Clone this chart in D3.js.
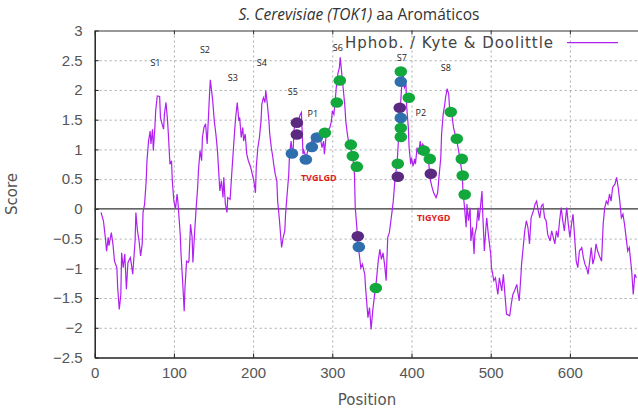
<!DOCTYPE html>
<html>
<head>
<meta charset="utf-8">
<script src="https://cdn.jsdelivr.net/npm/d3@7"></script>
<style>
  body { margin: 0; background: #fff; }
  #chart svg { display: block; }
</style>
</head>
<body>
<div id="chart"></div>
<script>
// Kyte & Doolittle profile (position, score)
const position = [8, 11, 13, 15, 17, 18, 21, 23, 25, 28, 29, 31, 33, 34, 36, 38, 40, 42, 45, 46, 48, 51, 52, 54, 56, 58, 60, 61, 63, 65, 66, 68, 70, 71, 73, 74, 76, 77, 79, 82, 83, 85, 87, 88, 90, 92, 93, 95, 97, 98,
  100, 102, 104, 105, 108, 109, 111, 113, 114, 116, 118, 119, 121, 123, 124, 126, 128, 130, 131, 133, 135, 136, 138, 140, 142, 144, 145, 146, 149, 151, 153, 155, 157, 158, 160, 162, 163, 165, 167, 168, 171, 173, 175, 177, 178, 180, 182, 183, 185, 187, 188, 190, 192, 194, 197, 199,
  201, 203, 204, 206, 208, 210, 211, 213, 215, 216, 218, 220, 221, 223, 225, 226, 228, 230, 231, 233, 235, 236, 238, 240, 241, 243, 245, 246, 248, 250, 252, 254, 257, 259, 261, 263, 264, 267, 269, 272, 274, 277, 279, 282, 284, 287, 289, 290, 292, 294, 297, 299,
  300, 302, 304, 305, 307, 309, 310, 312, 314, 316, 317, 319, 321, 324, 326, 328, 329, 331, 332, 334, 336, 338, 341, 342, 344, 345, 347, 349, 351, 353, 355, 358, 360, 362, 364, 366, 368, 370, 372, 374, 377, 379, 382, 384, 386, 388, 389, 391, 393, 394, 396, 397, 399,
  400, 402, 404, 405, 407, 409, 411, 412, 414, 417, 419, 422, 423, 426, 428, 431, 433, 435, 437, 438, 440, 442, 443, 445, 447, 448, 451, 453, 456, 458, 461, 464, 465, 467, 469, 470, 472, 474, 475, 477, 479, 480, 482, 484, 485, 487, 489, 490, 492, 494, 495, 497,
  500, 501, 504, 506, 509, 511, 514, 516, 518, 520, 524, 526, 528, 530, 533, 534, 536, 538, 539, 541, 543, 545, 547, 549, 551, 554, 556, 558, 560, 562, 564, 566, 568, 570, 572, 575, 577, 579, 581, 583, 585, 587, 589, 591, 593, 596, 598,
  600, 602, 604, 606, 608, 610, 612, 615, 617, 619, 621, 623, 625, 627, 629, 631, 633, 635, 638, 640, 642, 644, 646, 648, 650, 652, 654, 657, 659, 661, 663, 665, 667, 669, 671, 673, 675, 678, 680, 682, 684];
const score = [-0.06, -0.20, -0.43, -0.71, -0.48, -0.62, -0.40, -0.59, -0.88, -0.99, -1.32, -1.69, -1.44, -0.74, -0.99, -0.76, -1.35, -0.90, -0.82, -0.90, -1.10, -0.54, -0.06, -0.37, -0.54, -0.79, -0.59, -0.06, 0.08, 0.47, 0.81, 1.14, 1.31, 1.09, 1.34, 0.98, 1.37, 1.65, 1.90, 1.89, 1.54, 1.43, 1.34, 1.59, 1.79, 1.48, 1.26, 0.75, 0.81, 0.47,
  0.13, 0.00, 0.25, 0.13, -0.43, -0.76, -1.21, -1.72, -1.32, -0.88, -0.90, -0.88, -0.26, -0.48, -0.90, -0.43, 0.00, 0.36, 0.64, 0.98, 0.81, 1.20, 1.37, 1.43, 1.09, 1.65, 1.93, 2.17, 1.82, 1.48, 1.26, 0.98, 0.53, 0.30, 0.47, 0.19, 0.53, 0.08, -0.06, 0.19, 0.16, 0.58, 0.98, 1.37, 1.54, 1.79, 1.48, 1.54, 1.20, 1.37, 1.14, 1.26, 0.92, 0.81, 0.70, 0.58,
  0.47, 0.27, 0.70, 1.03, 1.20, 1.48, 1.76, 1.87, 1.79, 1.99, 1.76, 1.48, 1.26, 1.03, 0.86, 0.75, 0.58, 0.47, 0.13, -0.15, -0.48, -0.65, -0.48, -0.37, -0.09, 0.25, 0.58, 0.92, 1.14, 0.86, 1.37, 1.43, 1.48, 1.57, 1.62, 0.92, 0.98, 0.86, 0.98, 1.09, 1.14, 1.09, 1.23, 1.14, 1.26, 1.03, 1.14, 0.92, 1.20, 1.31, 1.37, 1.48,
  1.65, 1.59, 1.87, 2.04, 2.27, 2.38, 2.55, 2.27, 1.99, 1.71, 1.48, 1.26, 1.09, 0.98, 0.86, 0.58, 0.02, -0.31, -0.54, -0.76, -0.99, -0.93, -1.10, -1.32, -1.66, -1.83, -1.66, -2.03, -1.72, -1.49, -1.30, -0.88, -0.68, -0.85, -0.74, -0.93, -1.21, -0.48, -0.40, -0.20, 0.13, 0.47, 0.81, 1.26, 1.71, 2.15, 2.32, 2.04, 2.10, 1.71, 1.37, 1.03, 0.75,
  0.86, 0.72, 0.84, 0.75, 1.03, 0.92, 1.14, 1.03, 1.09, 1.03, 0.81, 0.75, 0.53, 0.36, 0.27, 0.19, 0.27, 0.58, 0.86, 1.26, 1.59, 1.76, 1.87, 2.02, 1.93, 1.71, 1.59, 1.37, 1.20, 1.09, 0.86, 0.58, 0.30, 0.02, -0.31, 0.08, -0.20, 0.02, -0.54, -0.31, -0.76, -0.43, -0.31, 0.02, -0.20, 0.02, 0.30, -0.09, -0.71, -0.31, -0.15, -0.43,
  -0.76, -0.99, -1.21, -1.16, -1.44, -1.16, -1.38, -1.10, -1.44, -1.77, -1.80, -1.60, -1.44, -1.38, -1.27, -1.38, -1.55, -1.16, -0.93, -0.65, -0.37, -0.20, -0.31, -0.59, -0.15, -0.03, 0.08, 0.13, -0.03, -0.15, 0.05, 0.08, -0.15, -0.20, -0.43, -0.54, -0.37, -0.48, -0.59, -0.37, -0.48, -0.20, 0.02, -0.20, -0.37, 0.02, -0.26,
  -0.48, -0.26, -0.09, -0.48, -0.88, -0.99, -0.71, -0.65, -0.82, -0.93, -0.99, -1.10, -0.88, -0.65, -0.93, -0.82, -0.59, -0.71, -0.82, -0.88, -0.26, 0.02, 0.13, 0.08, 0.25, 0.13, 0.36, 0.42, 0.53, 0.36, 0.13, -0.15, -0.09, -0.26, -0.48, -0.71, -0.65, -1.04, -1.44, -1.10, -1.16];

// aromatic residues marked on the profile
const dotPos   = [255.3, 255.3, 249, 266.6, 274.2, 280.5, 290.6, 305.7, 309.5, 323.4, 325.9, 331, 332.2, 333.5, 355,
                  386.5, 386.5, 396.6, 385.2, 386.5, 386.5, 386.5, 382.7, 382.7, 415.5, 423.1, 424.4,
                  449.6, 457.2, 463.5, 464.7, 467.2];
const dotScore = [1.45, 1.25, 0.93, 0.83, 1.04, 1.20, 1.28, 1.79, 2.16, 1.08, 0.89, 0.71, -0.46, -0.64, -1.33,
                  2.31, 2.14, 1.87, 1.70, 1.53, 1.36, 1.21, 0.76, 0.54, 0.98, 0.84, 0.59,
                  1.63, 1.18, 0.84, 0.56, 0.24];
const dotKind  = ["p", "p", "b", "b", "b", "b", "g", "g", "g", "g", "g", "g", "p", "b", "g",
                  "g", "b", "g", "p", "b", "g", "g", "g", "p", "g", "g", "p",
                  "g", "g", "g", "g", "g"];

// segment labels
const segLabels = ["S1", "S2", "S3", "S4", "S5", "P1", "S6", "S7", "S8", "P2"];
const segPos    = [76.7, 139.2, 174.5, 211.1, 250.2, 275.4, 307, 387.7, 443.3, 411.7];
const segScore  = [2.46, 2.68, 2.21, 2.46, 1.97, 1.60, 2.71, 2.54, 2.37, 1.62];
const motifLabels = ["TVGLGD", "TIGYGD"];
const motifPos    = [283, 428];
const motifScore  = [0.52, -0.15];

const xTicks = [0, 100, 200, 300, 400, 500, 600];
const yTicks = [-2.5, -2, -1.5, -1, -0.5, 0, 0.5, 1, 1.5, 2, 2.5, 3];

const W = 638, H = 414;
const plot = { left: 94.7, right: 638, top: 30.5, bottom: 357.5 };

const x = d3.scaleLinear().domain([0, 686]).range([plot.left, plot.right]);
const y = d3.scaleLinear().domain([-2.5, 3]).range([plot.bottom, plot.top]);
const kindColor = d3.scaleOrdinal().domain(["g", "b", "p"]).range(["#12a83c", "#2f6fad", "#5a2a80"]);

const svg = d3.select("#chart").append("svg")
    .attr("width", W).attr("height", H)
    .style("font-family", "'DejaVu Sans', sans-serif");

// grid
svg.append("g")
    .attr("transform", `translate(0,${plot.bottom})`)
    .call(d3.axisBottom(x).tickValues(xTicks.slice(1)).tickSize(-(plot.bottom - plot.top)).tickFormat(""))
    .call(g => g.select(".domain").remove())
    .selectAll("line")
    .attr("stroke", "#aaa").attr("stroke-dasharray", "2,3");

svg.append("g")
    .attr("transform", `translate(${plot.left},0)`)
    .call(d3.axisLeft(y).tickValues(yTicks.filter(v => v !== 0 && v !== -2.5 && v !== 3)).tickSize(-(plot.right - plot.left)).tickFormat(""))
    .call(g => g.select(".domain").remove())
    .selectAll("line")
    .attr("stroke", "#aaa").attr("stroke-dasharray", "2,3");

// axes
const xAxis = svg.append("g")
    .attr("transform", `translate(0,${plot.bottom})`)
    .call(d3.axisBottom(x).tickValues(xTicks).tickSizeInner(-4).tickSizeOuter(0).tickPadding(10));
const yAxis = svg.append("g")
    .attr("transform", `translate(${plot.left},0)`)
    .call(d3.axisLeft(y).tickValues(yTicks).tickSizeInner(-4).tickSizeOuter(0).tickPadding(12)
        .tickFormat(d => d3.format("")(d)));
// top border with ticks, no labels
const topAxis = svg.append("g")
    .attr("transform", `translate(0,${plot.top})`)
    .call(d3.axisTop(x).tickValues(xTicks).tickSizeInner(-4).tickSizeOuter(0).tickFormat(""));

[xAxis, yAxis].forEach(a => {
    a.select(".domain").attr("stroke", "#222").attr("stroke-width", 1.5);
    a.selectAll(".tick line").attr("stroke", "#222");
    a.selectAll("text").attr("fill", "#555").style("font-size", "15px");
});
topAxis.select(".domain").attr("stroke", "#333").attr("stroke-width", 1);
topAxis.selectAll(".tick line").attr("stroke", "#333");

// zero line
svg.append("line")
    .attr("x1", plot.left).attr("x2", plot.right)
    .attr("y1", y(0)).attr("y2", y(0))
    .attr("stroke", "#333").attr("stroke-width", 1.3);

// profile
const profile = position.map((p, i) => ({ p, s: score[i] }));
svg.append("path")
    .datum(profile)
    .attr("fill", "none")
    .attr("stroke", "#b020f0")
    .attr("stroke-width", 1.2)
    .attr("d", d3.line().x(d => x(d.p)).y(d => y(d.s)));

// residue dots
const dots = dotPos.map((p, i) => ({ p, s: dotScore[i], k: dotKind[i] }));
svg.selectAll(".dot")
    .data(dots)
    .enter()
    .append("ellipse")
    .attr("class", "dot")
    .attr("cx", d => x(d.p))
    .attr("cy", d => y(d.s))
    .attr("rx", 6.3)
    .attr("ry", 5.3)
    .attr("fill", d => kindColor(d.k));

// labels
svg.selectAll(".seg")
    .data(segLabels)
    .enter()
    .append("text")
    .attr("class", "seg")
    .attr("x", (d, i) => x(segPos[i]))
    .attr("y", (d, i) => y(segScore[i]))
    .attr("dy", "0.35em")
    .attr("text-anchor", "middle")
    .style("font-family", "'Open Sans', sans-serif")
    .style("font-size", "9px")
    .attr("fill", "#222")
    .text(d => d);

svg.selectAll(".motif")
    .data(motifLabels)
    .enter()
    .append("text")
    .attr("class", "motif")
    .attr("x", (d, i) => x(motifPos[i]))
    .attr("y", (d, i) => y(motifScore[i]))
    .attr("dy", "0.35em")
    .attr("text-anchor", "middle")
    .style("font-family", "'Open Sans', sans-serif")
    .style("font-size", "9px")
    .style("font-weight", "bold")
    .attr("fill", "#e0201c")
    .text(d => d);

// legend
svg.append("text")
    .attr("x", 345).attr("y", 47.5)
    .attr("fill", "#444")
    .style("font-size", "15px")
    .attr("textLength", 208)
    .attr("lengthAdjust", "spacing")
    .text("Hphob. / Kyte & Doolittle");
svg.append("line")
    .attr("x1", 567).attr("x2", 618)
    .attr("y1", 42.7).attr("y2", 42.7)
    .attr("stroke", "#b020f0").attr("stroke-width", 1.2);

// title
const title = svg.append("text")
    .attr("x", 359).attr("y", 19.5)
    .attr("text-anchor", "middle")
    .attr("fill", "#333")
    .style("font-family", "'Open Sans', sans-serif")
    .style("font-size", "15.5px");
title.append("tspan").style("font-style", "italic").text("S. Cerevisiae (TOK1)");
title.append("tspan").text(" aa Aromáticos");

// axis titles
svg.append("text")
    .attr("x", 367).attr("y", 405)
    .attr("text-anchor", "middle")
    .attr("fill", "#555")
    .style("font-size", "15px")
    .text("Position");
svg.append("text")
    .attr("transform", "translate(17,194) rotate(-90)")
    .attr("text-anchor", "middle")
    .attr("fill", "#555")
    .style("font-size", "15px")
    .text("Score");
</script>
</body>
</html>
